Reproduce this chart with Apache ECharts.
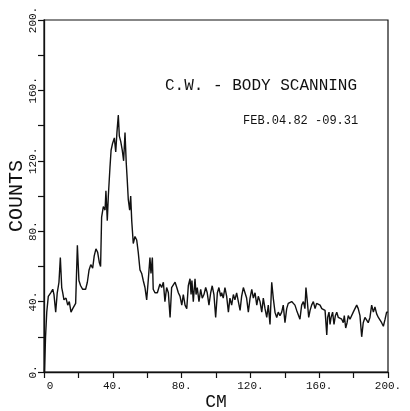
<!DOCTYPE html>
<html>
<head>
<meta charset="utf-8">
<script src="https://cdn.jsdelivr.net/npm/echarts@6/dist/echarts.min.js"></script>
<style>
html,body{margin:0;padding:0;background:#fff;}
#chart{width:410px;height:411px;}
</style>
</head>
<body>
<div id="chart"></div>
<script>
// Position along the body (cm)
var cmValues = [0.3,0.9,1.6,2.5,3.9,5.1,5.8,6.8,7.7,8.7,9.5,10.3,10.9,11.6,12.8,13.8,14.7,15.7,16.7,17.6,18.4,19.4,20.3,21.3,22.5,23.4,24.2,25.2,26.2,27.2,28.3,29.2,30.2,31.2,32.2,32.9,33.5,34.5,35.5,36.0,36.8,37.4,38.4,39.0,39.9,40.9,41.7,42.4,43.2,43.8,44.6,45.5,46.3,47.1,47.8,48.4,49.0,49.8,50.4,51.0,51.9,52.9,53.9,54.8,55.8,56.8,57.7,58.7,59.7,60.6,61.6,62.2,63.0,63.5,64.5,65.9,67.4,68.4,69.4,70.3,71.3,72.3,73.3,74.2,75.2,76.2,77.2,78.1,79.1,80.1,81.0,82.0,83.0,83.9,84.9,85.5,86.0,86.8,87.8,88.4,89.1,90.1,91.1,92.0,93.0,94.0,94.9,95.9,96.9,97.8,98.8,99.8,100.8,101.7,102.7,103.3,104.2,105.2,106.2,107.2,108.1,109.1,110.1,111.0,112.0,113.0,114.0,114.9,115.9,116.9,117.8,118.8,119.8,120.8,121.7,122.7,123.7,124.6,125.6,126.6,127.5,128.5,129.5,130.4,131.4,132.4,133.3,134.3,135.3,136.2,137.2,138.2,139.1,140.1,141.1,142.0,143.0,144.0,144.9,145.9,146.9,147.8,148.8,149.8,150.8,151.7,152.3,153.1,153.9,154.7,155.6,156.6,157.6,158.5,159.5,160.5,161.5,162.4,163.4,164.4,164.9,165.7,166.3,166.9,167.8,168.6,169.4,170.2,171.1,172.1,173.1,174.0,174.6,175.4,176.2,176.9,177.9,178.9,179.8,180.8,181.8,182.7,183.7,184.7,185.6,186.6,187.6,188.5,189.5,190.5,191.5,192.4,193.4,194.4,195.3,196.3,197.3,198.3,199.2,200.0];
// Counts
var countValues = [0,20,34,43,45,47,44,34,45,51,65,48,45,41,42,38,40,34,36,35,39,72,52,49,47,48,47,51,58,61,59,66,70,68,62,60,88,94,92,103,86,100,117,126,130,133,125,136,146,134,131,126,120,136,119,109,98,92,100,86,73,77,75,68,58,56,52,48,41,52,65,56,65,47,45,45,50,48,51,40,48,45,31,48,48,51,48,45,43,38,44,38,36,49,53,44,52,40,53,44,48,40,47,42,44,48,45,38,45,49,44,31,45,48,43,45,42,48,43,34,42,38,44,41,45,40,35,43,48,48,42,34,42,47,42,45,38,43,40,34,42,36,31,38,27,51,42,34,31,34,32,34,38,28,36,39,38,40,39,38,35,34,30,38,40,36,48,40,31,35,38,40,36,39,38,38,36,35,35,21,31,34,27,31,34,27,32,34,31,32,30,28,32,25,28,32,30,31,34,33,38,36,32,20,28,31,31,28,31,38,34,37,33,31,31,28,26,30,34,34];

var xTicks = [0,40,80,120,160,200];
var yTicks = [0,40,80,120,160,200];
var titleText = 'C.W. - BODY SCANNING';
var dateText = 'FEB.04.82 -09.31';
var xName = 'CM';
var yName = 'COUNTS';

var FONT = '"Liberation Mono", "DejaVu Sans Mono", monospace';
var INK = '#111';

var seriesData = cmValues.map(function (c, i) { return [c, countValues[i]]; });

var chart = echarts.init(document.getElementById('chart'), null, {renderer: 'canvas'});
chart.setOption({
  backgroundColor: '#fff',
  animation: false,
  grid: {left: 44, right: 22, top: 20, bottom: 39, containLabel: false, outerBoundsMode: 'none',
         show: true, borderColor: INK, borderWidth: 1.2, backgroundColor: 'transparent'},
  graphic: [
    {type: 'text', left: 165, top: 78, style: {text: titleText, font: '16px ' + FONT, fill: INK}},
    {type: 'text', left: 243, top: 115, style: {text: dateText, font: '12px ' + FONT, fill: INK}}
  ],
  xAxis: {
    type: 'value', min: 0, max: 200, interval: 20,
    name: xName, nameLocation: 'middle', nameGap: 21, nameMoveOverlap: false,
    nameTextStyle: {fontFamily: FONT, fontSize: 18, color: INK},
    axisLine: {show: true, lineStyle: {color: INK, width: 1.3}},
    axisTick: {show: true, length: 6, lineStyle: {color: INK, width: 1.2}},
    axisLabel: {
      fontFamily: FONT, fontSize: 11, color: INK, margin: 9,
      formatter: function (v) {
        if (xTicks.indexOf(v) < 0) return '';
        return v === 0 ? '{z|0}' : v + '.';
      },
      rich: {z: {fontFamily: FONT, fontSize: 11, color: INK, padding: [0, 0, 0, 12]}}
    },
    splitLine: {show: false}
  },
  yAxis: {
    type: 'value', min: 0, max: 200, interval: 20,
    name: yName, nameLocation: 'middle', nameGap: 17, nameRotate: 90, nameMoveOverlap: false,
    nameTextStyle: {fontFamily: FONT, fontSize: 20, color: INK},
    axisLine: {show: true, lineStyle: {color: INK, width: 1.3}},
    axisTick: {show: true, length: 6, lineStyle: {color: INK, width: 1.2}},
    axisLabel: {
      fontFamily: FONT, fontSize: 11, color: INK, margin: 5, rotate: 90,
      formatter: function (v) { return yTicks.indexOf(v) < 0 ? '' : v + '.'; }
    },
    splitLine: {show: false}
  },
  series: [{
    type: 'line', data: seriesData, showSymbol: false, symbol: 'none',
    lineStyle: {color: INK, width: 1.4}, clip: true
  }]
});
</script>
</body>
</html>
